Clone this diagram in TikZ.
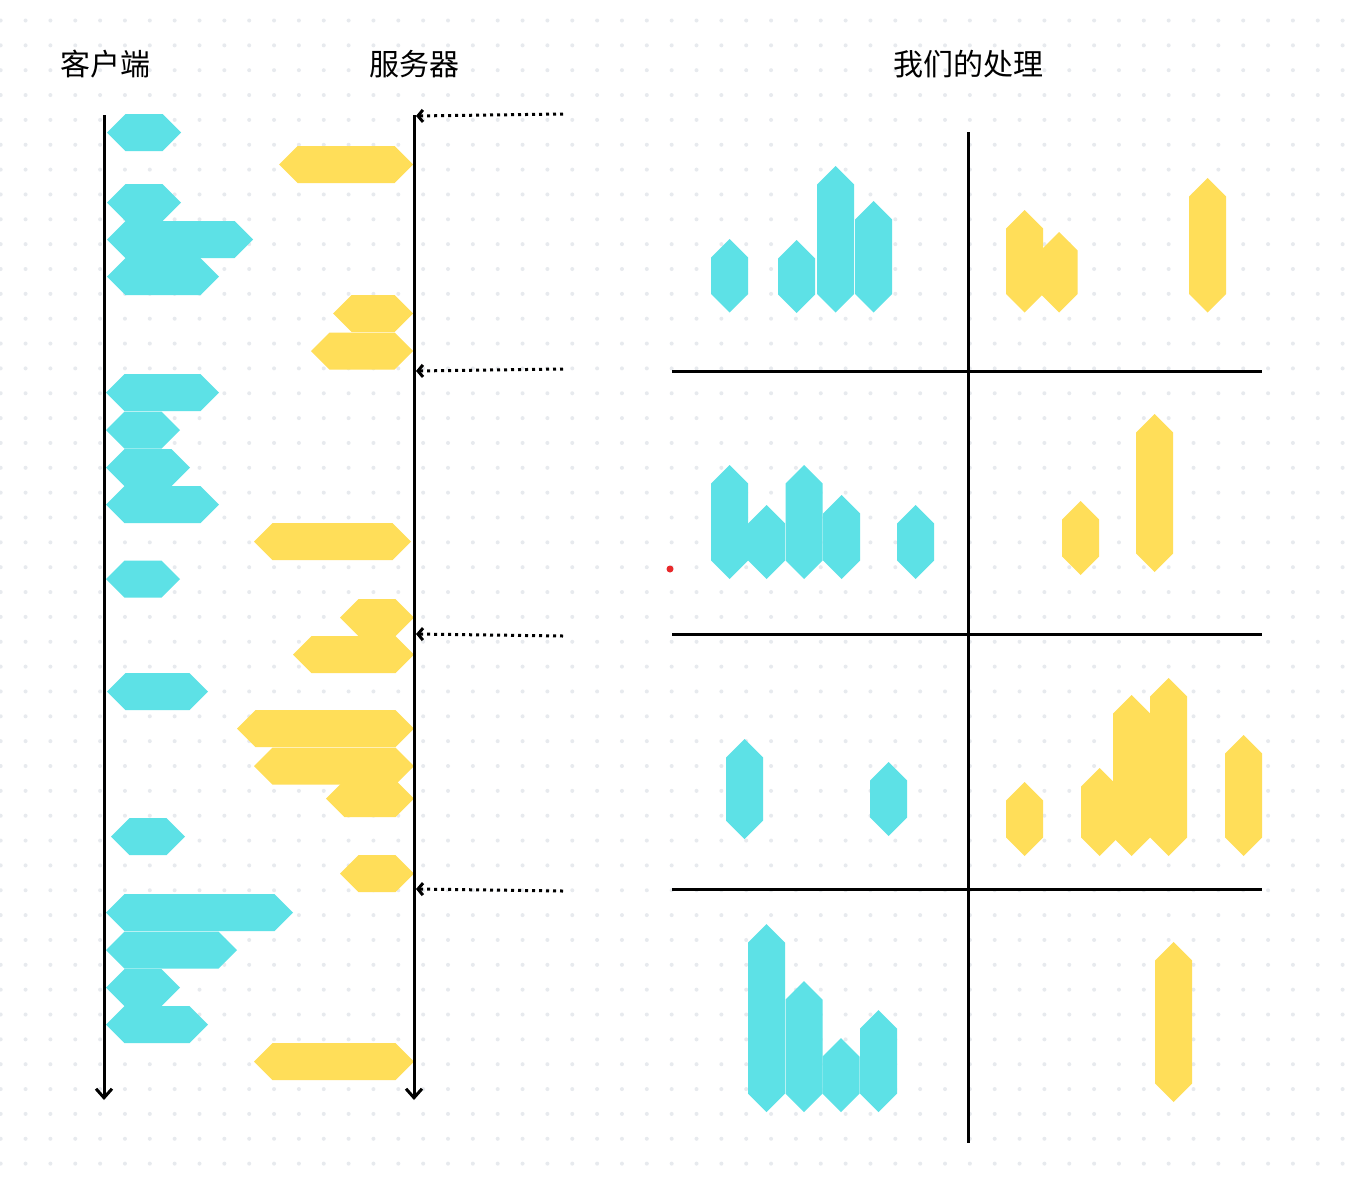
\documentclass[tikz,border=0pt]{standalone}
\usepackage{fontspec}
\newfontfamily\cjk{Noto Sans CJK SC}
\usepackage{tikz}
\usetikzlibrary{arrows.meta}
\definecolor{cli}{HTML}{5DE1E6}
\definecolor{srv}{HTML}{FFDE59}
\definecolor{griddot}{HTML}{E7EAEE}
\definecolor{reddot}{HTML}{E8292B}

\newcommand{\hexh}[4]{\fill[#1] (#2,#4) -- (#2+18.5,#4-18.5) -- (#3-18.5,#4-18.5) -- (#3,#4) -- (#3-18.5,#4+18.5) -- (#2+18.5,#4+18.5) -- cycle;}
\newcommand{\hexv}[4]{\fill[#1] (#2,#3) -- (#2+18.5,#3+18.5) -- (#2+18.5,#4-18.5) -- (#2,#4) -- (#2-18.5,#4-18.5) -- (#2-18.5,#3+18.5) -- cycle;}

\begin{document}
\begin{tikzpicture}[x=0.5pt, y=-0.5pt,
	title/.style={font=\cjk\fontsize{15pt}{18pt}\selectfont, inner sep=0pt},
	timeline/.style={line width=1.5pt, -{Straight Barb[length=4.5pt,width=8pt]}},
	probe/.style={line width=1.5pt, dash pattern=on 1.5pt off 2pt, -{Straight Barb[length=2.5pt,width=6pt]}},
	cell/.style={line width=1.5pt}]
\fill[white] (0,0) rectangle (1352,1178);
\useasboundingbox (0,0) rectangle (1352,1178);
\foreach \i in {0,...,54}
	\foreach \j in {0,...,46}
		\fill[griddot] ({0.7+24.85*\i},{20.5+24.85*\j}) circle (2);

\node[title] (client) at (105,64) {客户端};
\node[title] (server) at (414,64) {服务器};
\node[title] (ours) at (968,64) {我们的处理};

% client / server
\foreach \l/\r/\y in {107/181/132.5, 107/181/202.5, 107/253/239.5, 107/219/276.5,
	106/219/392.5, 106/180/430, 106/190/467.5, 106/219/504.5, 106/180/579,
	107/208/691.5, 111/185/836.5, 106/293/912.5, 106/237/950, 106/180/987.5, 106/208/1024.5}
	\hexh{cli}{\l}{\r}{\y};
\foreach \l/\r/\y in {279/413/164.5, 333/413/313.5, 311/413/351, 254/411/541.5,
	340/414/617.5, 293/414/654.5, 237/414/728.5, 254/414/766, 326/414/798.5,
	340/414/873.5, 254/414/1061.5}
	\hexh{srv}{\l}{\r}{\y};

\coordinate (c0) at (104,115);
\coordinate (c1) at (104,1100);
\coordinate (s0) at (414,115);
\coordinate (s1) at (414,1100);
\draw[timeline] (c0) -- (c1);
\draw[timeline] (s0) -- (s1);

\foreach \i/\a/\b in {1/114/116, 2/369/371, 3/636/634, 4/891/889} {
	\coordinate (p\i) at (563,\a);
	\coordinate (q\i) at (416,\b);
	\draw[probe] (p\i) -- (q\i);
}

% our side
\foreach \x/\t/\b in {729.5/239/312.5, 796.5/240/313, 835.5/166/312.5, 873.5/201/312.5,
	729.5/465/579, 766.5/505/579, 804/465/579, 841.5/495/579, 915.5/505/579,
	744.5/739/839, 888.5/762/836,
	766.5/924/1112, 804/981/1112, 841/1038/1112, 878.5/1010/1112}
	\hexv{cli}{\x}{\t}{\b};
\foreach \x/\t/\b in {1024.5/210/312.5, 1059/232/312.5, 1207.5/178/312.5,
	1080.5/501/575, 1154.5/414/572,
	1024.5/782/856, 1099.5/768/856, 1131.5/695/856, 1168.5/678/856, 1243.5/735/856,
	1173.5/942/1102}
	\hexv{srv}{\x}{\t}{\b};
\fill[reddot] (670,569) circle (3.5);

\coordinate (gt) at (968,132);
\coordinate (gb) at (968,1143);
\draw[cell] (gt) -- (gb);
\foreach \y [count=\k] in {371,634,889} {
	\coordinate (l\k) at (672,\y);
	\coordinate (r\k) at (1262,\y);
	\draw[cell] (l\k) -- (r\k);
}
\end{tikzpicture}
\end{document}
